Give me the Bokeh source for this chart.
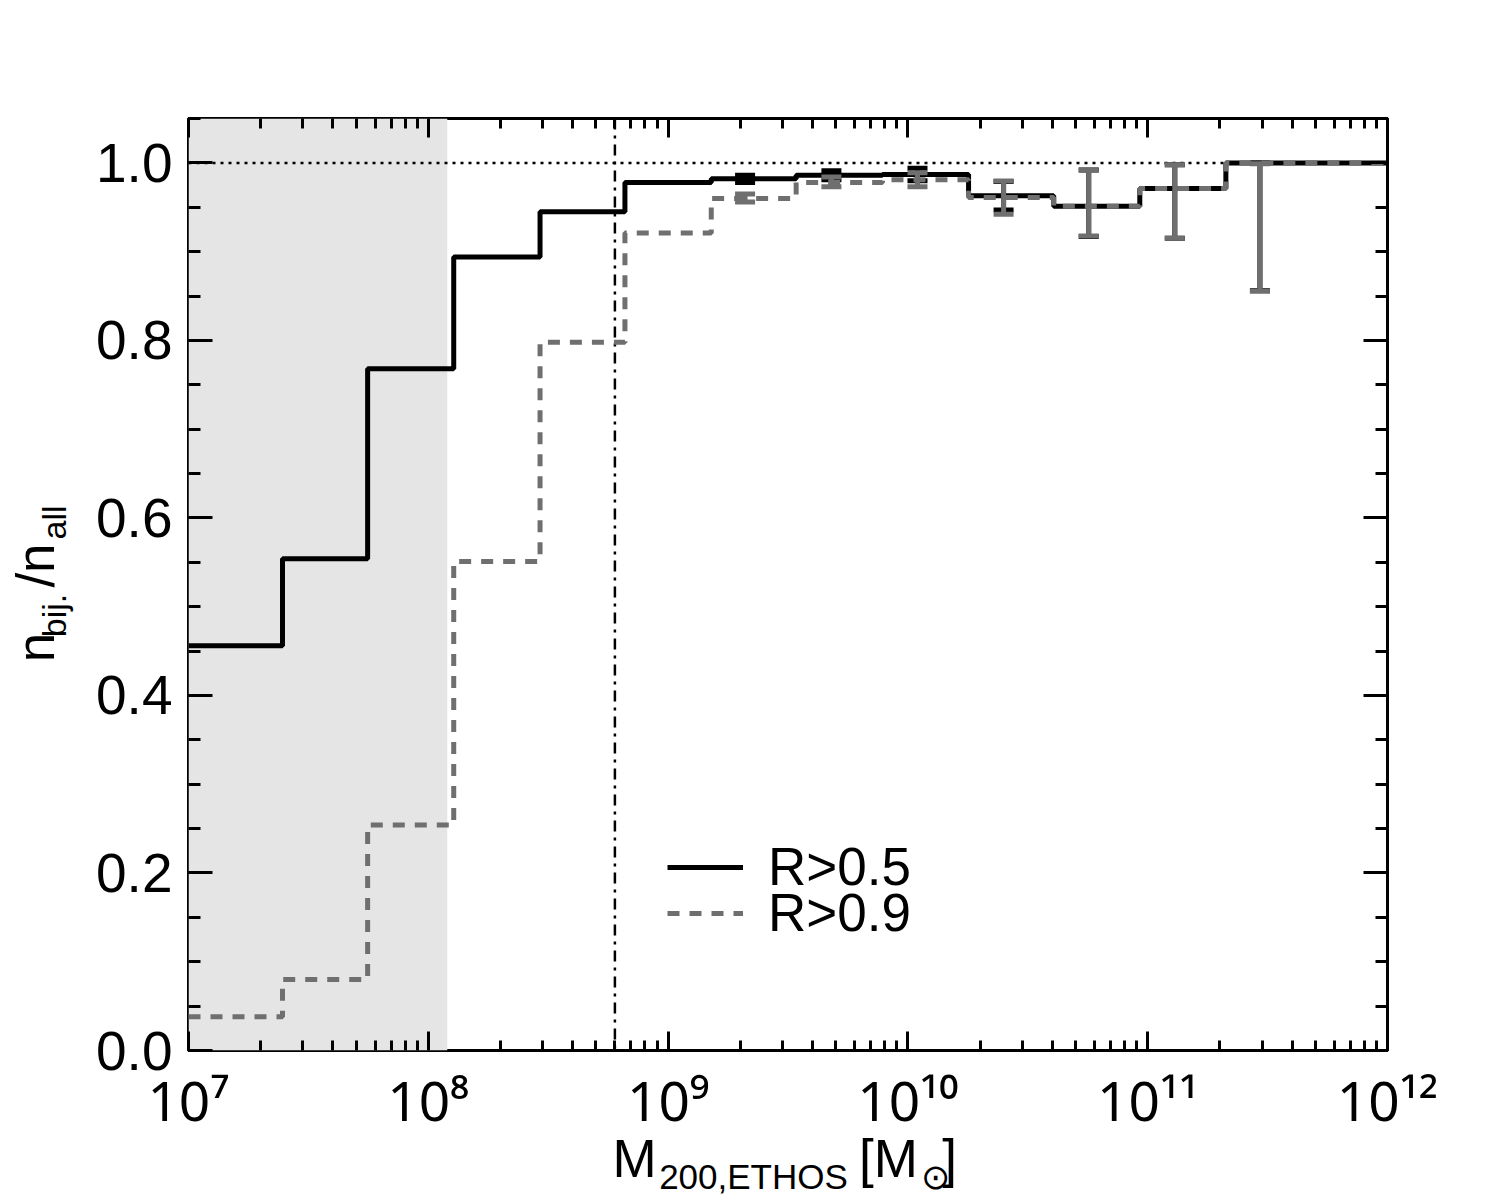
from bokeh.plotting import figure
from bokeh.models import (Range1d, LogAxis, LinearAxis, LinearScale, FixedTicker,
                          SingleIntervalTicker, Span, BoxAnnotation, ColumnDataSource,
                          Legend, LegendItem, CustomJSTickFormatter, PrintfTickFormatter)
from bokeh.embed import file_html
from bokeh.resources import INLINE

# ---------------- data ----------------
bin_edges_log = [7.0, 7.392, 7.747, 8.106, 8.466, 8.820, 9.180, 9.534, 9.894,
                 10.253, 10.608, 10.967, 11.326, 12.05]
frac_r05 = [0.456, 0.554, 0.768, 0.894, 0.945, 0.978, 0.982, 0.986, 0.987,
            0.963, 0.951, 0.971, 1.0]
frac_r09 = [0.038, 0.080, 0.254, 0.551, 0.798, 0.921, 0.960, 0.978, 0.981,
            0.961, 0.951, 0.971, 1.0]
err_x_log = [9.321, 9.681, 10.040, 10.399, 10.754, 11.113, 11.468]
err_r05_low = [0.978, 0.981, 0.980, 0.947, 0.917, 0.915, 0.856]
err_r05_high = [0.986, 0.991, 0.994, 0.979, 0.992, 0.998, 1.0]
err_r09_low = [0.956, 0.973, 0.973, 0.942, 0.9175, 0.915, 0.8555]
err_r09_high = [0.965, 0.984, 0.989, 0.9795, 0.992, 0.998, 0.999]
shade_limit = 1.2e8
mass_cut = 6e8
x_tick_values = [1e7, 1e8, 1e9, 1e10, 1e11, 1e12]
x_tick_labels = ["10\u2077", "10\u2078", "10\u2079", "10\u00b9\u2070", "10\u00b9\u00b9", "10\u00b9\u00b2"]
series_labels = ["R>0.5", "R>0.9"]
# axis titles, split into normal-size and subscript pieces
x_title_main = ["M", "[M", "]"]
x_title_sub = ["200,ETHOS", "\u2299"]
y_title_main = ["n", "/n"]
y_title_sub = ["bij.", "all"]

# ---------------- layout / style constants (canvas pixels) ----------------
FONT = "Liberation Sans"
TICK_FONT = "Noto Sans"
GRAY = "#6f6f6f"
FL, FR, FT, FB = 188, 1387, 118, 1050          # frame edges
x_title_main_pos = [634, 888, 949]
x_title_sub_pos = [753, 935]
y_title_main_pos = [647, 565]
y_title_sub_pos = [615, 522]

p = figure(width=1500, height=1200, x_axis_type="log",
           x_range=Range1d(1e7, 1e12), y_range=Range1d(0.0, 1.05),
           output_backend="svg", toolbar_location=None,
           min_border_left=FL, min_border_right=1500 - FR,
           min_border_top=FT, min_border_bottom=1200 - FB)
p.background_fill_color = "white"
p.border_fill_color = "white"
p.outline_line_color = "black"
p.outline_line_width = 3
p.xgrid.visible = False
p.ygrid.visible = False

# pixel ranges used only to place the axis-title pieces
p.extra_x_ranges = {"px": Range1d(FL, FR)}
p.extra_x_scales = {"px": LinearScale()}
p.extra_y_ranges = {"py": Range1d(FB, FT)}
p.extra_y_scales = {"py": LinearScale()}

# ---------------- axes ----------------
x_minor = [m * v for v in x_tick_values[:-1] for m in range(2, 10)]
xticker = FixedTicker(ticks=x_tick_values, minor_ticks=x_minor)
yticker = SingleIntervalTicker(interval=0.2, num_minor_ticks=4)
blank = CustomJSTickFormatter(code="return '';")


def lookup_formatter(vals, labs):
    return CustomJSTickFormatter(args=dict(tvals=list(vals), tlabs=list(labs)), code="""
        for (let i = 0; i < tvals.length; i++) {
            if (Math.abs(tvals[i] - tick) <= 1e-6 * Math.abs(tvals[i]) + 1e-9) return tlabs[i];
        }
        return '';
    """)


def style_ticks(ax, major, minor):
    ax.axis_line_color = None
    ax.major_tick_in = major
    ax.major_tick_out = 0
    ax.minor_tick_in = minor
    ax.minor_tick_out = 0
    ax.major_tick_line_width = 3
    ax.minor_tick_line_width = 3
    ax.major_tick_line_color = "black"
    ax.minor_tick_line_color = "black"


# bottom x axis with 10^n labels
bx = p.xaxis[0]
bx.ticker = xticker
style_ticks(bx, 19, 10)
bx.formatter = lookup_formatter(x_tick_values, x_tick_labels)
bx.major_label_text_font = TICK_FONT
bx.major_label_text_font_size = "55px"
bx.major_label_text_color = "black"
bx.major_label_standoff = 11

# left y axis
ly = p.yaxis[0]
ly.ticker = yticker
style_ticks(ly, 24, 12)
ly.formatter = PrintfTickFormatter(format="%.1f")
ly.major_label_text_font = FONT
ly.major_label_text_font_size = "55px"
ly.major_label_text_color = "black"
ly.major_label_standoff = 16

# top and right mirror axes
top_ax = LogAxis(ticker=xticker, formatter=blank, major_label_standoff=0,
                 major_label_text_font_size="1px")
style_ticks(top_ax, 19, 10)
p.add_layout(top_ax, "above")
right_ax = LinearAxis(ticker=yticker, formatter=blank, major_label_standoff=0,
                      major_label_text_font_size="1px")
style_ticks(right_ax, 24, 12)
p.add_layout(right_ax, "right")


def title_axis(side, positions, labels, size, standoff):
    kw = dict(x_range_name="px") if side == "below" else dict(y_range_name="py")
    ax = LinearAxis(**kw)
    ax.ticker = FixedTicker(ticks=positions, minor_ticks=[])
    ax.formatter = lookup_formatter(positions, labels)
    ax.axis_line_color = None
    ax.major_tick_line_color = None
    ax.minor_tick_line_color = None
    ax.major_tick_in = 0
    ax.major_tick_out = 0
    ax.minor_tick_in = 0
    ax.minor_tick_out = 0
    ax.major_label_text_font = FONT
    ax.major_label_text_font_size = f"{size}px"
    ax.major_label_text_color = "black"
    ax.major_label_standoff = standoff
    if side == "left":
        ax.major_label_orientation = "parallel"
    p.add_layout(ax, side)
    return ax


title_axis("below", x_title_main_pos, x_title_main, 53, -11)
title_axis("below", x_title_sub_pos, x_title_sub, 35, -34)
title_axis("left", y_title_sub_pos, y_title_sub, 34, 21)
title_axis("left", y_title_main_pos, y_title_main, 53, -33)

# ---------------- background annotations ----------------
p.add_layout(BoxAnnotation(right=shade_limit, fill_color="#e5e5e5", fill_alpha=1.0,
                           line_alpha=0, level="underlay"))
p.add_layout(Span(location=1.0, dimension="width", line_color="black", line_width=2.5,
                  line_dash="3 5", level="underlay"))
p.add_layout(Span(location=mass_cut, dimension="height", line_color="black", line_width=2.5,
                  line_dash="11 6 3 6", level="underlay"))

# ---------------- steps and error bars ----------------
edges = [10.0 ** e for e in bin_edges_log]
src05 = ColumnDataSource(dict(x=edges, y=frac_r05 + [frac_r05[-1]]))
src09 = ColumnDataSource(dict(x=edges, y=frac_r09 + [frac_r09[-1]]))
ex = [10.0 ** e for e in err_x_log]
esrc05 = ColumnDataSource(dict(x=ex, lo=err_r05_low, hi=err_r05_high))
esrc09 = ColumnDataSource(dict(x=ex, lo=err_r09_low, hi=err_r09_high))

r05 = p.step("x", "y", source=src05, mode="after", line_color="black", line_width=5)
p.segment(x0="x", y0="lo", x1="x", y1="hi", source=esrc05, line_color="black", line_width=5)
p.scatter("x", "lo", source=esrc05, marker="dash", size=20, line_color="black", line_width=5)
p.scatter("x", "hi", source=esrc05, marker="dash", size=20, line_color="black", line_width=5)

r09 = p.step("x", "y", source=src09, mode="after", line_color=GRAY, line_width=5,
             line_dash="12 10")
p.segment(x0="x", y0="lo", x1="x", y1="hi", source=esrc09, line_color=GRAY, line_width=5)
p.scatter("x", "lo", source=esrc09, marker="dash", size=20, line_color=GRAY, line_width=5)
p.scatter("x", "hi", source=esrc09, marker="dash", size=20, line_color=GRAY, line_width=5)

# ---------------- legend (one box per entry for exact row placement) ----------------
for label, rend, ybot in [(series_labels[0], r05, 153), (series_labels[1], r09, 107)]:
    lg = Legend(items=[LegendItem(label=label, renderers=[rend])],
                location=(667 - FL, ybot), orientation="vertical",
                glyph_width=76, glyph_height=40, label_height=40, label_standoff=25,
                spacing=0, padding=0, margin=0,
                label_text_font=FONT, label_text_font_size="53px", label_text_color="black",
                background_fill_alpha=0, border_line_alpha=0)
    p.add_layout(lg, "center")

open("out.html", "w").write(file_html(p, INLINE))
